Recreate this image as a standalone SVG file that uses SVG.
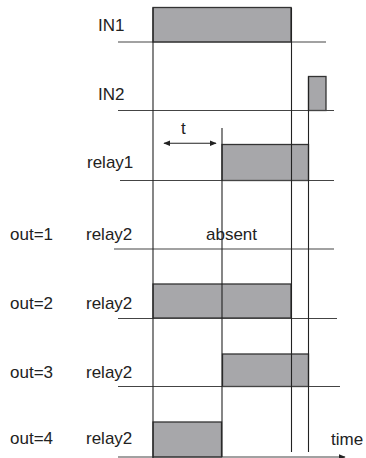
<svg xmlns="http://www.w3.org/2000/svg" width="366" height="458" viewBox="0 0 366 458">
<defs>
<style>
.lbl{font-family:"Liberation Sans",Arial,sans-serif;font-size:17px;fill:#222}
.base{stroke:#444;stroke-width:1.2;fill:none}
.vert{stroke:#222;stroke-width:1.1;fill:none}
.pulse{fill:#a7a7aa;stroke:#333;stroke-width:1.3}
</style>
<marker id="ah" viewBox="0 0 10 10" refX="9" refY="5" markerWidth="7" markerHeight="7" orient="auto-start-reverse" markerUnits="userSpaceOnUse">
<path d="M0,1 L10,5 L0,9 z" fill="#222"/>
</marker>
</defs>
<rect width="366" height="458" fill="#fff"/>
<g id="pulses">
<rect class="pulse" x="153" y="7.5" width="138" height="34.5"/>
<rect class="pulse" x="308.5" y="76.5" width="17.5" height="34"/>
<rect class="pulse" x="222" y="144.5" width="86.5" height="36"/>
<rect class="pulse" x="153" y="284" width="138" height="34"/>
<rect class="pulse" x="222.5" y="354" width="86" height="32.5"/>
<rect class="pulse" x="153" y="422" width="68.5" height="35"/>
</g>
<g id="connectors">
<line class="base" x1="118" y1="42" x2="326" y2="42"/>
<line class="base" x1="118" y1="110.5" x2="334" y2="110.5"/>
<line class="base" x1="120" y1="180.5" x2="334" y2="180.5"/>
<line class="base" x1="114" y1="249" x2="334" y2="249"/>
<line class="base" x1="118" y1="318.5" x2="337" y2="318.5"/>
<line class="base" x1="118" y1="386.5" x2="340" y2="386.5"/>
<line class="base" x1="118" y1="457" x2="345" y2="457" marker-end="url(#ah)"/>
<line class="vert" x1="153" y1="7.5" x2="153" y2="458"/>
<line class="vert" x1="291.5" y1="7.5" x2="291.5" y2="452"/>
<line class="vert" x1="308.5" y1="76.5" x2="308.5" y2="452"/>
<line class="vert" x1="222" y1="128" x2="222" y2="457"/>
<line class="vert" x1="164" y1="143.3" x2="216" y2="143.3" marker-start="url(#ah)" marker-end="url(#ah)"/>
</g>
<g id="labels">
<text class="lbl" x="98" y="31">IN1</text>
<text class="lbl" x="98" y="100">IN2</text>
<text class="lbl" x="181" y="134">t</text>
<text class="lbl" x="87" y="168">relay1</text>
<text class="lbl" x="10" y="240">out=1</text>
<text class="lbl" x="86" y="240">relay2</text>
<text class="lbl" x="206" y="240">absent</text>
<text class="lbl" x="10" y="309">out=2</text>
<text class="lbl" x="86" y="309">relay2</text>
<text class="lbl" x="10" y="378">out=3</text>
<text class="lbl" x="86" y="378">relay2</text>
<text class="lbl" x="10" y="444">out=4</text>
<text class="lbl" x="86" y="444">relay2</text>
<text class="lbl" x="331" y="445">time</text>
</g>
</svg>
